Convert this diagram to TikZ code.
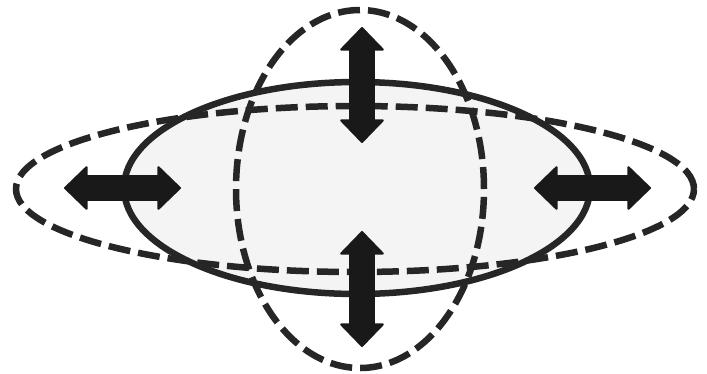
\documentclass[tikz,border=0pt]{standalone}
\usetikzlibrary{arrows.meta}
\definecolor{inkgray}{HTML}{262626}
\definecolor{fillgray}{HTML}{F4F4F4}
\begin{document}
\begin{tikzpicture}[x=1pt, y=-1pt,
    outline/.style={draw=inkgray, line width=6.5pt},
    dashline/.style={draw=inkgray, line width=6.5pt, dash pattern=on 22pt off 8pt},
    bigtip/.tip={Triangle[width=46pt, length=24pt, line width=2pt, round]},
    bigarrow/.style={draw=black!90, line width=26pt, bigtip-bigtip}]
  \useasboundingbox (0,0) rectangle (707,373);
  % the three outlines
  \coordinate (mid) at (357,188);
  \fill[fillgray] (mid) ellipse [x radius=233pt, y radius=106pt];
  \draw[dashline] (355,189) ellipse [x radius=339pt, y radius=83pt];
  \draw[dashline] (360,189) ellipse [x radius=124pt, y radius=179pt];
  \draw[outline] (mid) ellipse [x radius=233pt, y radius=106pt];
  % arrows
  \coordinate (top1) at (362,27);
  \coordinate (top2) at (362,143);
  \coordinate (bot1) at (362,231);
  \coordinate (bot2) at (362,347);
  \coordinate (lft1) at (64,188);
  \coordinate (lft2) at (181,188);
  \coordinate (rgt1) at (534,188);
  \coordinate (rgt2) at (651,188);
  \draw[bigarrow] (top1) -- (top2);
  \draw[bigarrow] (bot1) -- (bot2);
  \draw[bigarrow] (lft1) -- (lft2);
  \draw[bigarrow] (rgt1) -- (rgt2);
\end{tikzpicture}
\end{document}
